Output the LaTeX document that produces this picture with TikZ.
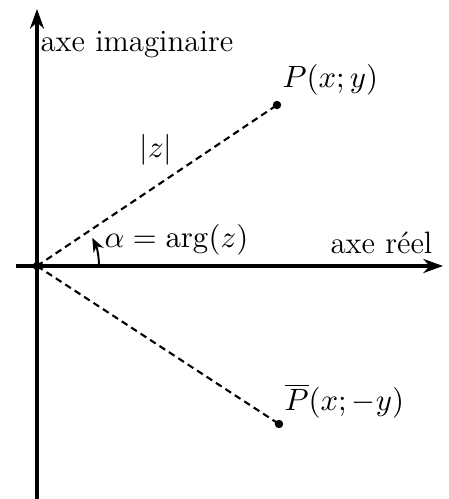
\documentclass[tikz,border=0pt]{standalone}
\usepackage{amsmath,amssymb}
\usepackage{tikz}
\usetikzlibrary{positioning, arrows.meta}

\begin{document}
\begin{tikzpicture}[
    x=0.0125cm, y=-0.0125cm,
    axis/.style={line width=1.1pt, -{Stealth[length=7pt, width=5pt]}},
    radius line/.style={dashed, line width=0.75pt, dash pattern=on 2.4pt off 1.6pt},
    dot/.style={circle, fill=black, inner sep=0pt, minimum size=3pt},
    lbl/.style={font=\fontsize{11}{13}\selectfont, inner sep=0pt},
]
\useasboundingbox (0,0) rectangle (448,499);

% Points
\node[dot] (O) at (37,266) {};
\node[dot] (P) at (277,105) {};
\node[dot] (Pb) at (279,424) {};
\coordinate (xs) at (16,266);
\coordinate (xe) at (443,266);
\coordinate (ys) at (37,499);
\coordinate (ye) at (37,9);
\coordinate (a0) at (99,266);

% Axes
\draw[axis] (xs) -- (xe);
\draw[axis] (ys) -- (ye);

% Radius lines
\draw[radius line] (O.center) -- (P.center);
\draw[radius line] (O.center) -- (Pb.center);

% Angle arrow
\draw[line width=0.7pt, -{Stealth[length=5pt, width=4pt]}] (a0) arc[start angle=0, end angle=-27, radius=62];

% Labels
\node[lbl, anchor=west] (imag) at (40,45) {axe imaginaire};
\node[lbl, anchor=west] (reel) at (330,243) {axe r\'eel};
\node[lbl] (mod) at (156,150) {$|z|$};
\node[lbl, anchor=west] (arg) at (104,240) {$\alpha=\arg(z)$};
\node[lbl, anchor=west] (Plbl) at (282,80) {$P(x;y)$};
\node[lbl, anchor=west] (Pblbl) at (284,401) {$\overline{P}(x;-y)$};

\end{tikzpicture}
\end{document}
